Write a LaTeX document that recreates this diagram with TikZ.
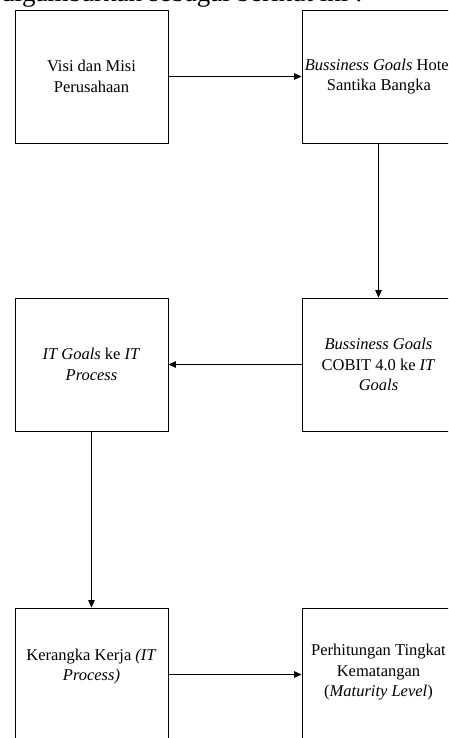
\documentclass[tikz,border=0pt]{standalone}
\usepackage{fontspec}
\setmainfont{Liberation Serif}
\usetikzlibrary{arrows.meta}
\begin{document}
\begin{tikzpicture}[x=1pt,y=-1pt,
  boxnode/.style={draw, line width=0.9pt, minimum width=153pt, minimum height=133pt, inner sep=0pt},
  txt/.style={align=center, inner sep=0pt, font=\fontsize{16.5pt}{20.5pt}\selectfont},
  arr/.style={line width=0.9pt, -{Triangle[length=7.5pt,width=6.5pt]}}]
\useasboundingbox (0,0) rectangle (448,738);
\clip (0,0) rectangle (448,738);
\fill[white] (0,0) rectangle (448,738);
\node[anchor=base west, inner sep=0pt, font=\fontsize{27pt}{30pt}\selectfont] (top) at (1,1.5) {digambarkan sebagai berikut ini :};
\node[boxnode] (b1) at (91.5,76.5) {};
\node[boxnode] (b2) at (378.5,76.5) {};
\node[boxnode] (b3) at (91.5,364.5) {};
\node[boxnode] (b4) at (378.5,364.5) {};
\node[boxnode] (b5) at (91.5,674.5) {};
\node[boxnode] (b6) at (378.5,674.5) {};
\node[txt] (t1) at (91.5,76.5) {Visi dan Misi\\Perusahaan};
\node[txt] (t2) at (379,76.5) {\textit{Bussiness Goals} Hotel\\Santika Bangka};
\node[txt] (t3) at (91.5,364.5) {\textit{IT Goals} ke \textit{IT}\\\textit{Process}};
\node[txt] (t4) at (378.5,364.5) {\textit{Bussiness Goals}\\COBIT 4.0 ke \textit{IT}\\\textit{Goals}};
\node[txt] (t5) at (91.5,666.5) {Kerangka Kerja \textit{(IT}\\\textit{Process)}};
\node[txt] (t6) at (378.5,672.5) {Perhitungan Tingkat\\Kematangan\\(\textit{Maturity Level})};
\draw[arr] (b1) -- (b2);
\draw[arr] (b2) -- (b4);
\draw[arr] (b4) -- (b3);
\draw[arr] (b3) -- (b5);
\draw[arr] (b5) -- (b6);
\end{tikzpicture}
\end{document}
